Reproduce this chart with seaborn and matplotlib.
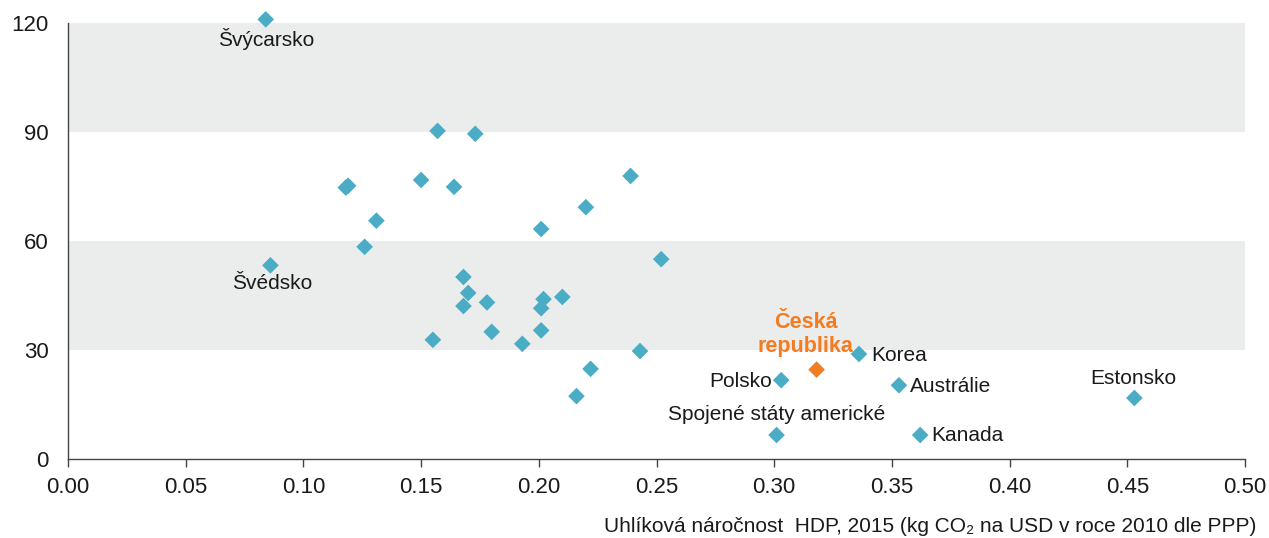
import numpy as np
import pandas as pd
import matplotlib
matplotlib.use("Agg")
import matplotlib.pyplot as plt
import seaborn as sns

########################### DATA ###########################
# uhlikova narocnost HDP (x) vs. druha promenna (y)
x_vals = [0.084, 0.157, 0.173, 0.118, 0.119, 0.150, 0.164, 0.239, 0.220,
          0.131, 0.126, 0.201, 0.252, 0.086, 0.168, 0.170, 0.168, 0.178,
          0.202, 0.201, 0.210, 0.155, 0.180, 0.201, 0.193, 0.243, 0.222,
          0.216, 0.336, 0.303, 0.353, 0.453, 0.301, 0.362]
y_vals = [121.0, 90.3, 89.5, 74.7, 75.2, 76.8, 74.9, 77.9, 69.3,
          65.6, 58.4, 63.3, 55.0, 53.3, 50.1, 45.7, 42.1, 43.1,
          44.0, 41.5, 44.6, 32.8, 35.0, 35.4, 31.7, 29.7, 24.8,
          17.3, 28.9, 21.7, 20.3, 16.8, 6.6, 6.6]
labels = ["Švýcarsko", "", "", "", "", "", "", "", "",
          "", "", "", "", "Švédsko", "", "", "", "",
          "", "", "", "", "", "", "", "", "",
          "", "Korea", "Polsko", "Austrálie", "Estonsko",
          "Spojené státy americké", "Kanada"]
cz_x = [0.318]
cz_y = [24.6]
cz_label = "Česká\nrepublika"

x_ticks = [0.00, 0.05, 0.10, 0.15, 0.20, 0.25, 0.30, 0.35, 0.40, 0.45, 0.50]
y_ticks = [0, 30, 60, 90, 120]
x_title = "Uhlíková náročnost  HDP, 2015 (kg CO₂ na USD v roce 2010 dle PPP)"

df = pd.DataFrame({"x": x_vals, "y": y_vals, "label": labels})
df_cz = pd.DataFrame({"x": cz_x, "y": cz_y})

########################### STYLE ###########################
sns.set_style("white")
plt.rcParams['font.family'] = ['Liberation Sans', 'DejaVu Sans']
teal = "#4BACC6"
orange = "#F47C20"
band = "#EBECEC"
txt = "#1a1a1a"

fig = plt.figure(figsize=(12.69, 5.38), dpi=100)
ax = fig.add_axes([68 / 1269, 1 - 459 / 538, (1245 - 68) / 1269, (459 - 23) / 538])

# sede pruhy
ax.axhspan(30, 60, color=band, lw=0, zorder=0)
ax.axhspan(90, 120, color=band, lw=0, zorder=0)

sns.scatterplot(data=df, x="x", y="y", marker="D", s=72, color=teal,
                edgecolor="none", ax=ax, zorder=3, clip_on=False)
sns.scatterplot(data=df_cz, x="x", y="y", marker="D", s=72, color=orange,
                edgecolor="none", ax=ax, zorder=3, clip_on=False)

########################### POPISKY ###########################
# offset v bodech a zarovnani pro kazdou popsanou zemi
offsets = {
    "Švýcarsko": ((0, -14), "center"),
    "Švédsko": ((1, -13), "center"),
    "Korea": ((9, -1), "left"),
    "Polsko": ((-7, -1), "right"),
    "Austrálie": ((8, -1), "left"),
    "Estonsko": ((-1, 14), "center"),
    "Spojené státy americké": ((0, 15), "center"),
    "Kanada": ((8, 0), "left"),
}
for _, row in df.iterrows():
    if row["label"] == "":
        continue
    off, ha = offsets[row["label"]]
    ax.annotate(row["label"], (row["x"], row["y"]), xytext=off,
                textcoords="offset points", ha=ha, va="center",
                fontsize=15, color=txt, zorder=4, annotation_clip=False)

ax.annotate(cz_label, (cz_x[0], cz_y[0]), xytext=(-8, 25),
            textcoords="offset points", ha="center", va="center",
            fontsize=15.5, color=orange, fontweight="bold", linespacing=1.2,
            zorder=4)

########################### OSY ###########################
ax.set_xlim(0, 0.5)
ax.set_ylim(0, 120)
ax.set_xticks(x_ticks)
ax.set_xticklabels([f"{v:.2f}" for v in x_ticks])
ax.set_yticks(y_ticks)
ax.tick_params(axis="x", direction="out", length=6, width=1, color="#444444",
               labelsize=16, labelcolor=txt, pad=7, bottom=True)
ax.tick_params(axis="y", length=0, labelsize=16, labelcolor=txt, pad=14)
ax.set_xlabel("")
ax.set_ylabel("")
for side in ["top", "right"]:
    ax.spines[side].set_visible(False)
for side in ["left", "bottom"]:
    ax.spines[side].set_color("#444444")
    ax.spines[side].set_linewidth(1)

fig.text(1256 / 1269, 1 - 526 / 538, x_title, ha="right", va="center",
         fontsize=15, color=txt)

fig.savefig("out.png", dpi=100)
